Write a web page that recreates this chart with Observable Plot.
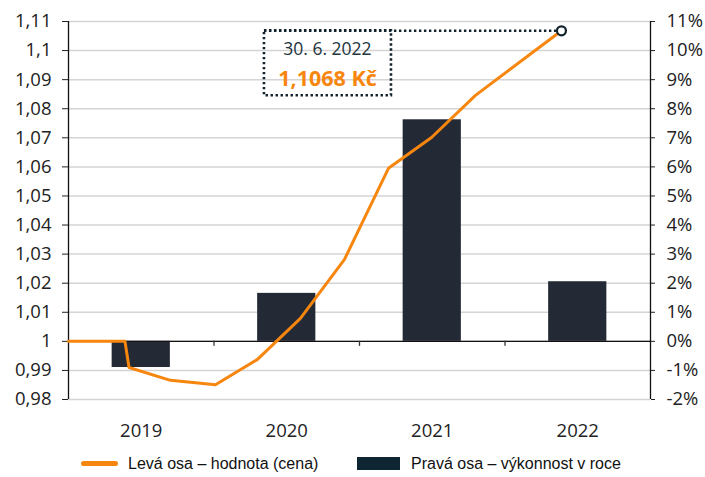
<!DOCTYPE html>
<html>
<head>
<meta charset="utf-8">
<script src="https://cdn.jsdelivr.net/npm/d3@7"></script>
<script src="https://cdn.jsdelivr.net/npm/@observablehq/plot@0.6"></script>
<style>
  body { margin: 0; background: #fff; }
  #chart svg { display: block; }
  #legend { position: relative; height: 27px; font-family: "Liberation Sans", Arial, sans-serif; font-size: 16px; color: #111; }
  .item { position: absolute; top: 0; height: 27px; display: flex; align-items: center; white-space: nowrap; }
  .sw-line { display: inline-block; width: 37px; height: 5px; border-radius: 2.5px; background: #f7860f; margin-right: 10px; }
  .sw-bar { display: inline-block; width: 43px; height: 13px; background: #0e2632; margin-right: 11px; }
</style>
</head>
<body>
<div id="chart"></div>
<div id="legend">
  <div class="item" style="left:81px"><span class="sw-line"></span><span>Levá osa – hodnota (cena)</span></div>
  <div class="item" style="left:357px"><span class="sw-bar"></span><span>Pravá osa – výkonnost v roce</span></div>
</div>
<script>
// ---- data ----
const years = [2019, 2020, 2021, 2022];
const yearlyReturnPct = [-0.9, 1.65, 7.62, 2.05];          // right axis (výkonnost v roce)
const lineTime = [2018.5, 2018.888, 2018.916, 2019.201, 2019.51, 2019.799, 2020.094, 2020.397, 2020.699, 2020.995, 2021.297, 2021.888];
const lineValue = [1.0, 1.0, 0.991, 0.9866, 0.9851, 0.9938, 1.0079, 1.0282, 1.0595, 1.0701, 1.0846, 1.1068]; // left axis (hodnota)
const leftTicks = [0.98, 0.99, 1.0, 1.01, 1.02, 1.03, 1.04, 1.05, 1.06, 1.07, 1.08, 1.09, 1.1, 1.11];
const rightTicksPct = [-2, -1, 0, 1, 2, 3, 4, 5, 6, 7, 8, 9, 10, 11];
const yearBoundaries = [2018.5, 2019.5, 2020.5, 2021.5, 2022.5];
const lastDateLabel = "30. 6. 2022";
const lastValueLabel = "1,1068 Kč";

// ---- derived tables ----
const bars = years.map((y, i) => ({year: y, pct: yearlyReturnPct[i]}));
const line = lineTime.map((t, i) => ({t, v: lineValue[i]}));
const last = line[line.length - 1];
const pctToLeft = p => 1 + p / 100;   // right axis shares gridlines: 1 % = 0.01

const ORANGE = "#f7860f";
const DARK = "#232a35";
const INK = "#12232e";
const FONT = "Open Sans";

const chart = Plot.plot({
  width: 705,
  height: 450,
  marginTop: 21,
  marginBottom: 51,
  marginLeft: 68,
  marginRight: 55,
  style: {fontFamily: FONT, fontSize: "18.5px", color: "#222", background: "#fff"},
  x: {domain: [2018.5, 2022.5]},
  y: {domain: [0.98, 1.11]},
  marks: [
    Plot.ruleY(leftTicks, {stroke: "#d4d4d4", strokeWidth: 1.5}),
    Plot.rectY(bars, {x1: d => d.year - 0.2, x2: d => d.year + 0.2, y1: () => 1, y2: d => pctToLeft(d.pct), fill: DARK}),
    Plot.ruleY([1], {stroke: "#111", strokeWidth: 1.3}),
    Plot.ruleX(yearBoundaries.slice(1, -1), {x: d => d, y1: () => 1, y2: () => 1, insetBottom: -5, stroke: "#333", strokeWidth: 1.3}),
    Plot.ruleX([2018.5, 2022.5], {stroke: "#111", strokeWidth: 1.3}),
    Plot.axisY({anchor: "left", ticks: leftTicks, tickSize: 6, tickPadding: 11, fontSize: 18.5,
      tickFormat: d => String(+d.toFixed(2)).replace(".", ","), label: null}),
    Plot.axisY({anchor: "right", ticks: rightTicksPct.map(pctToLeft), tickSize: 4, tickPadding: 12, fontSize: 18.5,
      tickFormat: d => Math.round((d - 1) * 100) + "%", label: null}),
    Plot.axisX({ticks: years, tickSize: 0, tickPadding: 24, fontSize: 18.5, tickFormat: d => String(d), label: null}),
    Plot.line(line, {x: "t", y: "v", stroke: ORANGE, strokeWidth: 3, strokeLinejoin: "round"}),
    // annotation: dotted callout anchored on the last point
    Plot.ruleY([last], {y: "v", x1: "t", x2: "t", insetLeft: -297, insetRight: 5, stroke: INK, strokeWidth: 2.6, strokeDasharray: "2.4,2.6"}),
    Plot.rect([last], {x1: "t", x2: "t", y1: "v", y2: "v", insetLeft: -297, insetRight: 170, insetTop: 0, insetBottom: -65,
      fill: "none", stroke: INK, strokeWidth: 2.6, strokeDasharray: "2.4,2.6"}),
    Plot.text([last], {x: "t", y: "v", text: () => lastDateLabel, dx: -234, dy: 19, fontSize: 17.5, fill: "#233540", fontFamily: FONT}),
    Plot.text([last], {x: "t", y: "v", text: () => lastValueLabel, dx: -234, dy: 48, fontSize: 21.5, fontWeight: "bold", fill: ORANGE, fontFamily: FONT}),
    Plot.dot([last], {x: "t", y: "v", r: 4.5, stroke: INK, strokeWidth: 2.2, fill: "#fff"})
  ]
});
document.getElementById("chart").appendChild(chart);
</script>
</body>
</html>
